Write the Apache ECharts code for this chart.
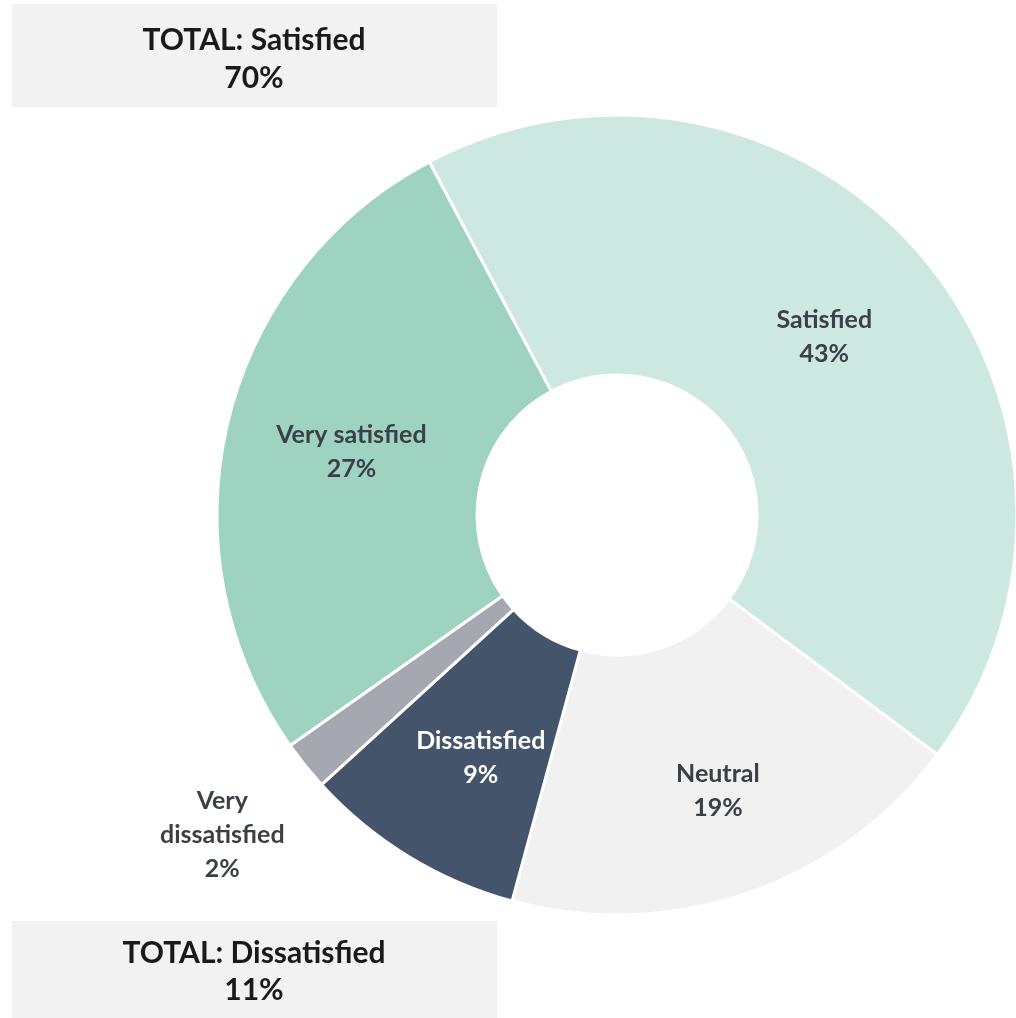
<!DOCTYPE html>
<html>
<head>
<meta charset="utf-8">
<style>
  html, body { margin: 0; padding: 0; background: #ffffff; }
  #chart { width: 1016px; height: 1018px; }
</style>
<script src="https://cdn.jsdelivr.net/npm/echarts@6/dist/echarts.min.js"></script>
</head>
<body>
<div id="chart"></div>
<script>
// Survey response shares (percent), in clockwise drawing order
const categories = ['Satisfied', 'Neutral', 'Dissatisfied', 'Very dissatisfied', 'Very satisfied'];
const shares = [43, 19, 9, 2, 27];
const sliceColors = ['#cde8e0', '#f1f1f1', '#44546b', '#a5a8b0', '#9ed3c1'];

// Groups summarised in the two total boxes
const satisfiedGroup = ['Very satisfied', 'Satisfied'];
const dissatisfiedGroup = ['Dissatisfied', 'Very dissatisfied'];

const sumOf = group => group.reduce((s, name) => s + shares[categories.indexOf(name)], 0);
const totalSatisfied = sumOf(satisfiedGroup);
const totalDissatisfied = sumOf(dissatisfiedGroup);

const textDark = '#3b4046';
const labelFont = 'Lato, "DejaVu Sans", sans-serif';
const labelSize = 25;

const pieData = categories.map((name, i) => {
  const item = {
    name: name,
    value: shares[i],
    itemStyle: { color: sliceColors[i] }
  };
  if (name === 'Dissatisfied') {
    item.label = { color: '#ffffff' };
  }
  if (name === 'Very dissatisfied') {
    item.label = {
      position: 'outside',
      formatter: p => '{t|' + p.name.replace(' ', '}\n{t|') + '}\n{t|' + p.value + '%}',
      rich: {
        t: { width: 160, align: 'center', fontSize: labelSize, fontWeight: 'bold',
             color: textDark, fontFamily: labelFont, lineHeight: 34 }
      }
    };
    item.labelLine = { show: false, length: 0, length2: 0 };
  }
  return item;
});

const chart = echarts.init(document.getElementById('chart'), null, { renderer: 'canvas' });

function totalBox(top, title, value, y1, y2) {
  const font = 'bold 30px Lato, "Open Sans", sans-serif';
  return {
    type: 'group',
    left: 12,
    top: top,
    children: [
      { type: 'rect', shape: { x: 0, y: 0, width: 485, height: 103 },
        style: { fill: '#f2f2f2' } },
      { type: 'text', x: 242, y: y1,
        style: { text: title, align: 'center', verticalAlign: 'middle',
                 font: font, fill: '#1a1a1a' } },
      { type: 'text', x: 242, y: y2,
        style: { text: value + '%', align: 'center', verticalAlign: 'middle',
                 font: font, fill: '#1a1a1a' } }
    ]
  };
}

chart.setOption({
  backgroundColor: '#ffffff',
  animation: false,
  graphic: [
    totalBox(4, 'TOTAL: Satisfied', totalSatisfied, 36, 74),
    totalBox(921, 'TOTAL: Dissatisfied', totalDissatisfied, 32, 69)
  ],
  series: [{
    type: 'pie',
    center: [617, 515],
    radius: [140, 400],
    startAngle: 118,
    clockwise: true,
    avoidLabelOverlap: false,
    itemStyle: { borderColor: '#ffffff', borderWidth: 3 },
    label: {
      show: true,
      position: 'inside',
      formatter: '{b}\n{c}%',
      fontFamily: labelFont,
      fontSize: labelSize,
      fontWeight: 'bold',
      color: textDark,
      lineHeight: 34
    },
    labelLayout: function (params) {
      if (params.dataIndex === categories.indexOf('Very dissatisfied')) {
        return { dx: 2, dy: 69 };
      }
      if (params.dataIndex === categories.indexOf('Neutral')) {
        return { dx: 12, dy: 18 };
      }
      if (params.dataIndex === categories.indexOf('Dissatisfied')) {
        return { dx: 6, dy: 10 };
      }
      return {};
    },
    emphasis: { disabled: true },
    data: pieData
  }]
});
</script>
</body>
</html>
